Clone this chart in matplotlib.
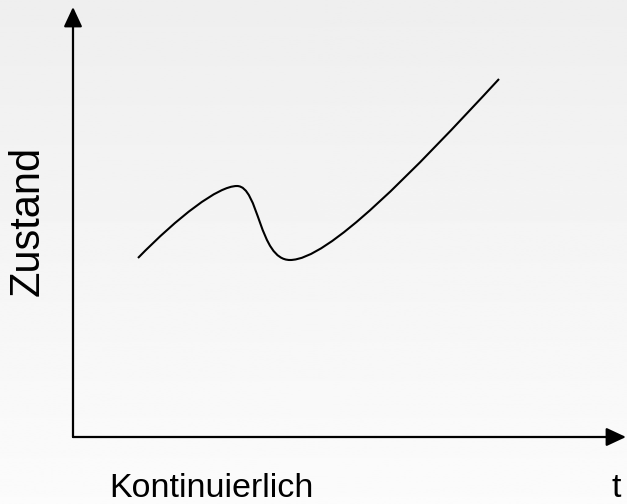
import numpy as np
import matplotlib
matplotlib.use('Agg')
import matplotlib.pyplot as plt
from matplotlib.path import Path
from matplotlib.patches import PathPatch

# Curve read off the sketch as cubic Bezier pieces (t = time, zustand = state),
# origin at the axis corner. Each piece: start, handle 1, handle 2, end.
curve_t = [65, 105, 145, 164,
           186, 186, 217,
           255, 340, 426]
curve_zustand = [179, 220, 251, 251,
                 251, 177, 177,
                 177, 265, 358]

y_label = 'Zustand'
x_label = 'Kontinuierlich'
t_label = 't'

plt.rcParams['font.family'] = ['Liberation Sans', 'DejaVu Sans']

fig = plt.figure(figsize=(6.27, 5.04), dpi=100)
ax = fig.add_axes([0, 0, 1, 1])
ax.set_xlim(-73, 554)
ax.set_ylim(-67, 437)
ax.axis('off')

# light grey gradient background
grad = np.linspace(0.935, 0.985, 256).reshape(-1, 1)
ax.imshow(grad, cmap='gray', vmin=0, vmax=1, extent=[0, 1, 0, 1],
          transform=ax.transAxes, aspect='auto', zorder=0)

# axes with arrow heads
arrow = dict(arrowstyle='-|>,head_length=0.6,head_width=0.28', lw=1.6,
             color='black', mutation_scale=20, shrinkA=0, shrinkB=0)
ax.annotate('', xy=(553, 0), xytext=(0, 0), arrowprops=arrow,
            annotation_clip=False, zorder=3)
ax.annotate('', xy=(0, 430), xytext=(0, 0), arrowprops=arrow,
            annotation_clip=False, zorder=3)

verts = list(zip(curve_t, curve_zustand))
codes = [Path.MOVETO] + [Path.CURVE4] * (len(verts) - 1)
ax.add_patch(PathPatch(Path(verts, codes), fill=False, edgecolor='black',
                       lw=1.5, capstyle='butt', zorder=4))

ax.text(-45, 216, y_label, rotation=90, fontsize=30, ha='center', va='center')
ax.text(138, -60, x_label, fontsize=24.5, ha='center', va='baseline')
ax.text(543, -60, t_label, fontsize=24.5, ha='center', va='baseline')

fig.savefig('out.png', dpi=100)
